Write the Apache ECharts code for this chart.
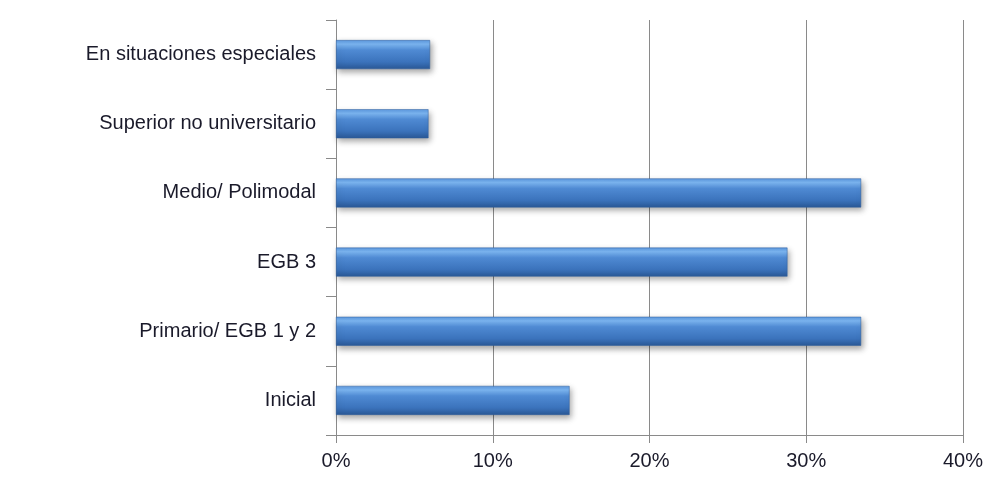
<!DOCTYPE html>
<html><head><meta charset="utf-8">
<script src="https://cdn.jsdelivr.net/npm/echarts@6/dist/echarts.min.js"></script>
<style>html,body{margin:0;padding:0;background:#fff}#c{width:994px;height:480px}</style>
</head><body><div id="c"></div>
<script>
const categories = ['Inicial', 'Primario/ EGB 1 y 2', 'EGB 3', 'Medio/ Polimodal', 'Superior no universitario', 'En situaciones especiales'];
const values = [14.9, 33.5, 28.8, 33.5, 5.9, 6.0];
const tickMax = 40;
const tickStep = 10;

const chart = echarts.init(document.getElementById('c'), null, {renderer: 'canvas'});
chart.setOption({
  animation: false,
  backgroundColor: '#ffffff',
  grid: {left: 336, right: 31, top: 20, bottom: 45, containLabel: false},
  xAxis: {
    type: 'value', min: 0, max: tickMax, interval: tickStep,
    axisLine: {show: true, lineStyle: {color: '#8a8a8a', width: 1}},
    axisTick: {show: true, length: 8, lineStyle: {color: '#8a8a8a'}},
    splitLine: {show: true, lineStyle: {color: '#8a8a8a', width: 1}},
    axisLabel: {formatter: '{value}%', color: '#1a1a2a', fontFamily: 'Liberation Sans, Arial', fontSize: 20, margin: 16}
  },
  yAxis: {
    type: 'category', data: categories,
    axisLine: {show: true, lineStyle: {color: '#8a8a8a', width: 1}},
    axisTick: {show: true, length: 10, lineStyle: {color: '#8a8a8a'}},
    axisLabel: {color: '#1a1a2a', fontFamily: 'Liberation Sans, Arial', fontSize: 20, margin: 20}
  },
  series: [{
    type: 'bar', data: values, barWidth: 29,
    itemStyle: {
      color: new echarts.graphic.LinearGradient(0, 0, 0, 1, [
        {offset: 0, color: '#5b97de'},
        {offset: 0.14, color: '#7cb6f2'},
        {offset: 0.35, color: '#4f8ad3'},
        {offset: 0.75, color: '#3b73bc'},
        {offset: 1, color: '#2a5896'}
      ]),
      borderColor: '#2f5f9e', borderWidth: 0.5,
      shadowColor: 'rgba(0,0,0,0.35)', shadowBlur: 6, shadowOffsetX: 2, shadowOffsetY: 3
    }
  }]
});
</script></body></html>
